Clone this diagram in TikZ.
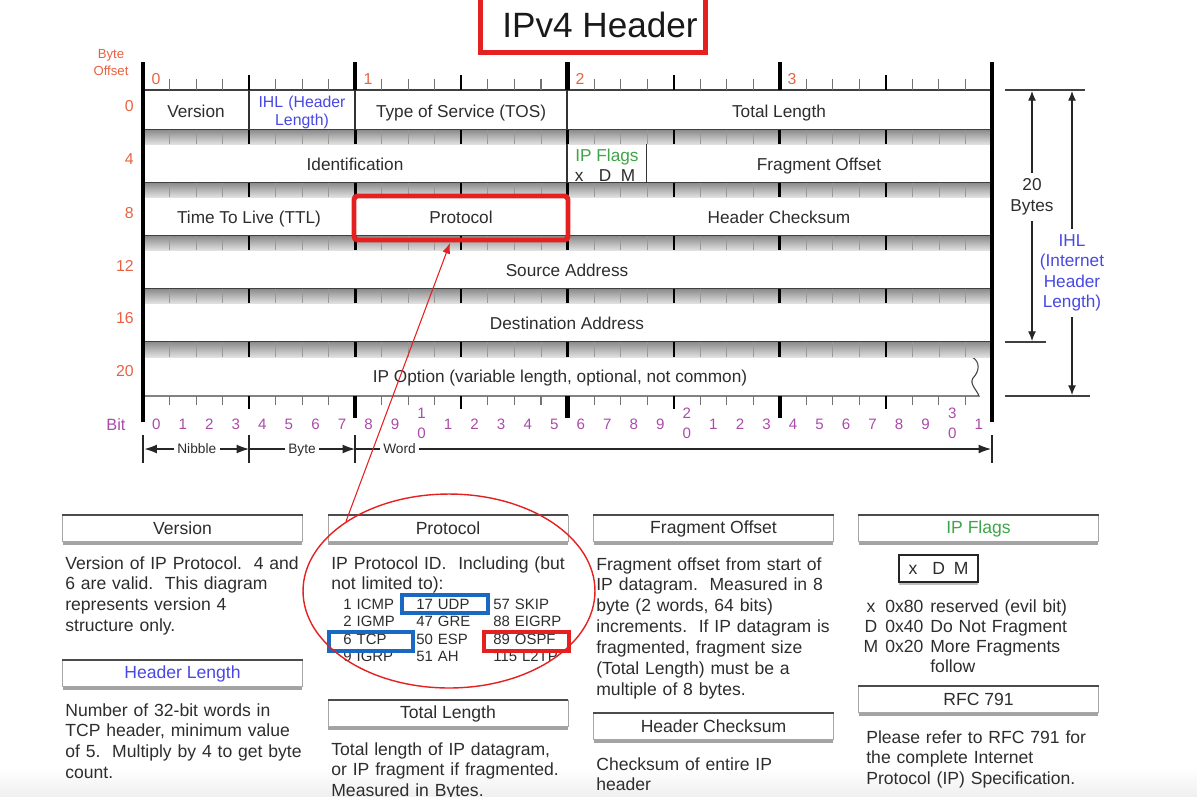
\documentclass[tikz,border=0pt]{standalone}
\usepackage{fontspec}
\setmainfont{Liberation Sans}
\usetikzlibrary{arrows.meta,shadows,shapes.geometric}
\definecolor{offs}{RGB}{232,98,66}
\definecolor{bitc}{RGB}{170,75,170}
\definecolor{ihlb}{RGB}{72,72,228}
\definecolor{flagg}{RGB}{62,165,72}
\definecolor{hred}{RGB}{228,32,32}
\definecolor{hblue}{RGB}{25,105,195}
\definecolor{txt}{RGB}{45,45,45}
\begin{document}
\begin{tikzpicture}[x=0.02cm,y=-0.02cm,
  fld/.style={font=\fontsize{9.8}{11.8}\selectfont, text=txt, inner sep=0pt, anchor=base},
  offl/.style={font=\fontsize{9}{10}\selectfont, text=offs, inner sep=0pt, anchor=base},
  bitl/.style={font=\fontsize{8.6}{10}\selectfont, text=bitc, inner sep=0pt, anchor=base},
  body/.style={font=\fontsize{10}{11.9}\selectfont, text=txt, inner sep=0pt, anchor=base west, align=left, text width=6cm},
  plist/.style={font=\fontsize{8.5}{10}\selectfont, text=txt, inner sep=0pt, anchor=base west, align=left, text width=2cm},
  phead/.style={draw=black!35, fill=white, minimum width=4.8cm, minimum height=0.52cm, inner sep=0pt, font=\fontsize{10}{12}\selectfont, text=txt, drop shadow={shadow xshift=0pt, shadow yshift=-2.2pt, fill=black!60, opacity=0.6}},
  dimarr/.style={-{Latex[length=5.5pt,width=4.5pt]}, line width=0.6pt, black!85},
  spanarr/.style={-{Latex[length=7pt,width=5pt]}, line width=0.6pt, black!85},
  spanlbl/.style={font=\fontsize{7.8}{9}\selectfont, text=txt, fill=white, inner xsep=2pt, inner ysep=0.5pt, text height=5.6pt, text depth=0pt},
  rowbox/.style={fill=white, draw=black!75, line width=0.6pt},
  thickline/.style={line width=2.3pt, black},
  dimlbl/.style={font=\fontsize{9.8}{11.8}\selectfont, text=txt, align=center, inner sep=3pt}
]
\useasboundingbox (0,0) rectangle (1197,796);
\shade[top color=white, bottom color=black!6] (0,768) rectangle (1197,796);

% title
\draw[hred, line width=2.8pt] (480.5,-8) rectangle (705.5,52.5);
\node[font=\fontsize{20}{24}\selectfont, text=black!90, inner sep=0pt, anchor=base] (title) at (600,37) {IPv4 Header};

% rows
\foreach \tp/\bt in {90/130,144/183,197/236,250/289,303/342}{
  \draw[rowbox] (143,\tp) rectangle (992,\bt);
}
\draw[rowbox] (143,357) -- (972,357) .. controls (981,362) and (979,372) .. (973,378) .. controls (969,384) and (977,390) .. (979,396) -- (143,396) -- cycle;

% bands between rows
\foreach \tp/\bt in {130/144,183/197,236/250,289/303,342/357}{
  \shade[top color=black!45, bottom color=black!12] (143,\tp) rectangle (992,\bt);
  \foreach \i in {1,...,31}{
    \pgfmathtruncatemacro\mq{mod(\i,4)}
    \pgfmathtruncatemacro\mb{mod(\i,8)}
    \ifnum\mb=0 \draw[black, line width=1.9pt] (143+\i*26.53125,\tp) -- (143+\i*26.53125,\bt);
    \else\ifnum\mq=0 \draw[black, line width=1.2pt] (143+\i*26.53125,\tp) -- (143+\i*26.53125,\bt);
    \else \draw[black!40, line width=0.5pt] (143+\i*26.53125,\tp) -- (143+\i*26.53125,\bt);
    \fi\fi
  }
}

% top and bottom rulers
\foreach \i in {1,...,31}{
  \pgfmathtruncatemacro\mq{mod(\i,4)}
  \pgfmathtruncatemacro\mb{mod(\i,8)}
  \ifnum\mb=0
    \draw[thickline] (143+\i*26.53125,62) -- (143+\i*26.53125,90);
    \draw[thickline] (143+\i*26.53125,396) -- (143+\i*26.53125,418);
  \else\ifnum\mq=0
    \draw[black, line width=1.2pt] (143+\i*26.53125,75) -- (143+\i*26.53125,90);
    \draw[black, line width=1.2pt] (143+\i*26.53125,396) -- (143+\i*26.53125,409);
  \else
    \draw[black!55, line width=0.6pt] (143+\i*26.53125,79) -- (143+\i*26.53125,90);
    \draw[black!55, line width=0.6pt] (143+\i*26.53125,396) -- (143+\i*26.53125,405);
  \fi\fi
}
\draw[thickline] (143,62) -- (143,422);
\draw[thickline] (992,62) -- (992,422);

% field dividers
\draw[black!80, line width=0.6pt] (249,90) -- (249,130) (355,90) -- (355,130) (567,90) -- (567,130)
  (567,144) -- (567,183) (646.6,144) -- (646.6,183)
  (355,197) -- (355,236) (567,197) -- (567,236);

% field labels
\node[fld] (ver) at (196,117) {Version};
\node[fld, text=ihlb, font=\fontsize{9}{10.8}\selectfont, align=center, text width=2cm] (ihl) at (302,107) {IHL (Header\\Length)};
\node[fld] (tos) at (461,117) {Type of Service (TOS)};
\node[fld] (tlen) at (779,117) {Total Length};
\node[fld] (ident) at (355,170) {Identification};
\node[fld, text=flagg] (flg) at (607,161) {IP Flags};
\node[fld] (xdm) at (605,181) {x\hspace{0.9em}D\hspace{0.55em}M};
\node[fld] (frag) at (819,170) {Fragment Offset};
\node[fld] (ttl) at (249,223) {Time To Live (TTL)};
\node[fld] (prot) at (461,223) {Protocol};
\node[fld] (hcs) at (779,223) {Header Checksum};
\node[fld] (src) at (567,276) {Source Address};
\node[fld] (dst) at (567,329) {Destination Address};
\node[fld] (opt) at (560,382) {IP Option (variable length, optional, not common)};

% byte offsets
\node[font=\fontsize{7.5}{10.2}\selectfont, text=offs, align=center, text width=1.3cm, inner sep=0pt, anchor=base] (bo) at (111,58) {Byte\\Offset};
\node[offl, anchor=base east] (o0) at (134,111) {0};
\node[offl, anchor=base east] (o4) at (134,164) {4};
\node[offl, anchor=base east] (o8) at (134,218) {8};
\node[offl, anchor=base east] (o12) at (134,271) {12};
\node[offl, anchor=base east] (o16) at (134,323) {16};
\node[offl, anchor=base east] (o20) at (134,376) {20};
\node[offl] (by0) at (156,84) {0};
\node[offl] (by1) at (368,84) {1};
\node[offl] (by2) at (580,84) {2};
\node[offl] (by3) at (792,84) {3};

% bit numbers
\node[bitl, font=\fontsize{9.3}{10}\selectfont] (bitlbl) at (116,430) {Bit};
\foreach \i in {0,...,31}{
  \pgfmathsetmacro\cx{143+(\i+0.5)*26.53125}
  \pgfmathtruncatemacro\dig{mod(\i,10)}
  \pgfmathtruncatemacro\tens{div(\i,10)}
  \ifnum\dig=0
    \ifnum\i>0
      \node[bitl] (bt\i) at (\cx,418) {\tens};
      \node[bitl] (bu\i) at (\cx,438) {0};
    \else
      \node[bitl] (bu\i) at (\cx,429.5) {0};
    \fi
  \else
    \node[bitl] (bu\i) at (\cx,429.5) {\dig};
  \fi
}

% nibble / byte / word spans
\draw[black!85, line width=0.6pt] (143,435) -- (143,463) (249,435) -- (249,463) (355,435) -- (355,463) (992,435) -- (992,463);
\coordinate (s0) at (144.5,449);
\coordinate (s1) at (249,449);
\coordinate (s2) at (355,449);
\coordinate (s3) at (991,449);
\draw[spanarr, {Latex[length=7pt,width=5pt]}-{Latex[length=7pt,width=5pt]}] (s0) -- node[spanlbl] (nib) {Nibble} (s1);
\draw[spanarr] (s1) -- node[spanlbl] (byt) {Byte} (s2);
\draw[spanarr] (s2) -- node[spanlbl, pos=0.07] (wrd) {Word} (s3);

% right-side dimensions
\draw[black!75, line width=0.6pt] (1005,90) -- (1085,90) (1005,342) -- (1046,342) (1005,396) -- (1090,396);
\node[dimlbl] (twenty) at (1032,197) {20\\Bytes};
\coordinate (d20a) at (1032,91);
\coordinate (d20b) at (1032,341);
\draw[dimarr] (twenty) -- (d20a);
\draw[dimarr] (twenty) -- (d20b);
\node[dimlbl, text=ihlb, font=\fontsize{9.8}{11.7}\selectfont] (ihlr) at (1072,273) {IHL\\(Internet\\Header\\Length)};
\coordinate (ihla) at (1072,91);
\coordinate (ihlb2) at (1072,395);
\draw[dimarr] (ihlr) -- (ihla);
\draw[dimarr] (ihlr) -- (ihlb2);

% panel headers
\node[phead] (hv) at (182.5,528.5) {Version};
\node[phead] (hp) at (448,528.5) {Protocol};
\node[phead] (hf) at (713.5,528.5) {Fragment Offset};
\node[phead, text=flagg] (hi) at (978.5,528.5) {IP Flags};
\node[phead, text=ihlb] (hh) at (182.5,673.5) {Header Length};
\node[phead] (ht) at (448,713.5) {Total Length};
\node[phead] (hc) at (713.5,726) {Header Checksum};
\node[phead] (hr) at (978.5,699) {RFC 791};
\foreach \n in {hv,hp,hf,hi,hh,ht,hc,hr}{
  \draw[black!70, line width=1pt] (\n.north west) -- (\n.north east);
}

% panel texts
\node[body] (t1) at (65,569) {Version of IP Protocol.\ \ 4 and\\6 are valid.\ \ This diagram\\represents version 4\\structure only.};
\node[body] (t2) at (65,716) {Number of 32-bit words in\\TCP header, minimum value\\of 5.\ \ Multiply by 4 to get byte\\count.};
\node[body] (t3) at (331,569) {IP Protocol ID.\ \ Including (but\\not limited to):};
\node[plist] (pl1) at (343,609) {1 ICMP\\2 IGMP\\6 TCP\\9 IGRP};
\node[plist] (pl2) at (416,609) {17 UDP\\47 GRE\\50 ESP\\51 AH};
\node[plist] (pl3) at (493,609) {57 SKIP\\88 EIGRP\\89 OSPF\\115 L2TP};
\node[body] (t4) at (331,755) {Total length of IP datagram,\\or IP fragment if fragmented.\\Measured in Bytes.};
\node[body] (t5) at (596,570) {Fragment offset from start of\\IP datagram.\ \ Measured in 8\\byte (2 words, 64 bits)\\increments.\ \ If IP datagram is\\fragmented, fragment size\\(Total Length) must be a\\multiple of 8 bytes.};
\node[body] (t6) at (596,770) {Checksum of entire IP\\header};
\node[draw=black!85, line width=1pt, fill=white, minimum width=1.58cm, minimum height=0.54cm, inner sep=0pt, font=\fontsize{10}{12}\selectfont, text=txt, drop shadow={shadow xshift=0pt, shadow yshift=-1.5pt, fill=black!50, opacity=0.5}] (fbox) at (938.5,568.5) {x\hspace{0.85em}D\hspace{0.5em}M};
\node[body, anchor=base, align=center, text width=0.5cm, font=\fontsize{10}{11.5}\selectfont] (fl1) at (871,612) {x\\D\\M};
\node[body, font=\fontsize{10}{11.5}\selectfont] (fl2) at (885,612) {0x80\\0x40\\0x20};
\node[body, font=\fontsize{10}{11.5}\selectfont] (fl3) at (930,612) {reserved (evil bit)\\Do Not Fragment\\More Fragments\\follow};
\node[body, font=\fontsize{10}{11.7}\selectfont] (t7) at (866,743) {Please refer to RFC 791 for\\the complete Internet\\Protocol (IP) Specification.};

% highlight boxes
\draw[hblue, line width=2.2pt] (402,595) rectangle (488,613);
\draw[hblue, line width=2.2pt] (329,632) rectangle (413,651);
\draw[hred, line width=2.2pt] (484,632) rectangle (569,651);
\draw[hred, line width=2.8pt, rounded corners=2pt] (354,196) rectangle (568,240);

% ellipse and red arrow
\node[draw=hred, ellipse, line width=0.8pt, minimum width=5.84cm, minimum height=3.88cm, inner sep=0pt] (pell) at (449,591) {};
\coordinate (tip) at (450,243);
\draw[hred, line width=0.6pt, -{Latex[length=6pt,width=4.5pt]}] (pell.146) -- (tip);
\end{tikzpicture}
\end{document}
